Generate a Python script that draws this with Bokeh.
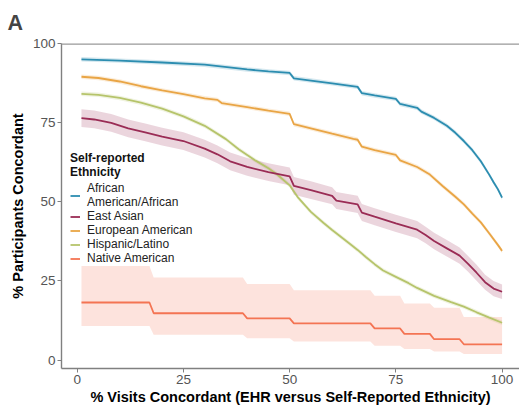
import numpy as np
from bokeh.plotting import figure
from bokeh.models import Legend, LegendItem, FixedTicker, Range1d, Span
from bokeh.embed import file_html
from bokeh.resources import INLINE

# % participants concordant vs. % visits concordant, by self-reported ethnicity
afr_x = [1, 10, 20, 30, 40, 45, 50, 51, 55, 60, 66, 67, 70, 75, 76, 80, 81, 84, 87, 89, 91, 93, 95, 97, 98, 99, 100]
afr_y = [95.0, 94.6, 94.0, 93.3, 91.8, 91.2, 90.7, 89.0, 88.3, 87.4, 86.3, 84.3, 83.6, 82.5, 80.9, 79.7, 78.5, 76.5, 74.0, 71.8, 69.2, 66.3, 62.8, 58.5, 56.2, 54.0, 51.3]
afr_ci = 0.7

eur_x = [1, 5, 10, 15, 20, 25, 30, 33, 34, 40, 45, 50, 51, 55, 60, 65, 66, 67, 70, 75, 76, 80, 83, 86, 89, 91, 93, 95, 97, 99, 100]
eur_y = [89.5, 89.1, 88.0, 86.5, 85.2, 84.0, 82.7, 82.2, 81.2, 79.9, 78.8, 77.8, 74.5, 73.2, 71.5, 69.9, 69.6, 67.4, 66.3, 64.8, 63.1, 61.0, 58.6, 55.0, 51.6, 49.2, 46.3, 43.5, 40.0, 36.4, 34.5]
eur_ci = 0.7

hisp_x = [1, 5, 10, 15, 20, 25, 30, 35, 38, 40, 42, 45, 47, 50, 52, 55, 58, 60, 64, 66, 68, 70, 72, 75, 78, 80, 84, 88, 91, 94, 97, 100]
hisp_y = [84.1, 83.8, 82.8, 81.3, 79.4, 77.0, 74.0, 69.8, 66.6, 64.8, 63.0, 60.6, 58.7, 55.2, 51.3, 46.8, 43.3, 41.1, 36.9, 34.8, 32.5, 30.3, 28.3, 26.3, 24.3, 22.8, 20.3, 18.3, 16.9, 15.1, 13.4, 11.8]
hisp_ci = 0.7

eas_x = [1, 4, 8, 12, 16, 20, 25, 30, 33, 36, 40, 45, 50, 51, 55, 60, 61, 66, 67, 70, 75, 80, 82, 84, 87, 90, 92, 94, 96, 98, 100]
eas_y = [76.4, 76.0, 74.9, 73.2, 71.9, 70.6, 69.2, 66.8, 65.0, 62.8, 61.0, 59.4, 58.0, 55.0, 53.7, 51.9, 50.4, 49.2, 46.6, 45.3, 43.2, 41.2, 39.5, 37.6, 35.3, 33.0, 30.4, 27.6, 24.6, 22.6, 21.6]
eas_ci = [2.8, 2.8, 2.8, 2.8, 2.8, 2.8, 2.8, 2.8, 2.8, 2.8, 2.8, 2.8, 2.8, 2.8, 2.8, 2.7, 2.7, 2.7, 2.7, 2.7, 2.7, 2.7, 2.6, 2.6, 2.6, 2.6, 2.5, 2.5, 2.4, 2.4, 2.3]

nat_x = [1, 17, 18, 39, 40, 50, 51, 69, 70, 76, 77, 83, 84, 90, 91, 100]
nat_y = [18.2, 18.2, 14.8, 14.8, 13.2, 13.2, 11.6, 11.6, 10.0, 10.0, 8.3, 8.3, 6.6, 6.6, 5.0, 5.0]
nat_lo = [10.8, 10.8, 8.0, 8.0, 6.9, 6.9, 5.9, 5.9, 4.5, 4.5, 3.5, 3.5, 2.7, 2.7, 1.9, 1.9]
nat_hi = [29.7, 29.7, 26.1, 26.1, 24.0, 24.0, 22.1, 22.1, 20.3, 20.3, 17.9, 17.9, 16.5, 16.5, 13.6, 13.6]

ticks = [0, 25, 50, 75, 100]

colors = {
    "afr": "#2c8db0",
    "eas": "#9a2c55",
    "eur": "#e9a545",
    "hisp": "#b6c46b",
    "nat": "#f47453",
}

FONT = "Liberation Sans"

p = figure(width=519, height=407, output_backend="svg", toolbar_location=None,
           x_range=Range1d(-3.7, 104.1), y_range=Range1d(-2.65, 100.0),
           min_border_left=61, min_border_right=0, min_border_top=43,
           min_border_bottom=39)

# confidence bands
p.varea(x=afr_x, y1=np.array(afr_y) - afr_ci, y2=np.array(afr_y) + afr_ci,
        fill_color=colors["afr"], fill_alpha=0.2)
p.varea(x=eur_x, y1=np.array(eur_y) - eur_ci, y2=np.array(eur_y) + eur_ci,
        fill_color=colors["eur"], fill_alpha=0.2)
p.varea(x=hisp_x, y1=np.array(hisp_y) - hisp_ci, y2=np.array(hisp_y) + hisp_ci,
        fill_color=colors["hisp"], fill_alpha=0.2)
p.varea(x=eas_x, y1=np.array(eas_y) - np.array(eas_ci), y2=np.array(eas_y) + np.array(eas_ci),
        fill_color=colors["eas"], fill_alpha=0.2)
p.varea(x=nat_x, y1=nat_lo, y2=nat_hi, fill_color=colors["nat"], fill_alpha=0.2)

# curves
lw = 1.8
r_afr = p.line(afr_x, afr_y, line_color=colors["afr"], line_width=lw)
r_eur = p.line(eur_x, eur_y, line_color=colors["eur"], line_width=lw)
r_hisp = p.line(hisp_x, hisp_y, line_color=colors["hisp"], line_width=lw)
r_eas = p.line(eas_x, eas_y, line_color=colors["eas"], line_width=lw)
r_nat = p.line(nat_x, nat_y, line_color=colors["nat"], line_width=lw)

# axes
p.xgrid.visible = False
p.ygrid.visible = False
p.outline_line_color = None
for ax in (p.xaxis[0], p.yaxis[0]):
    ax.ticker = FixedTicker(ticks=ticks)
    ax.axis_line_color = "#808080"
    ax.axis_line_width = 1.4
    ax.major_tick_line_color = "#808080"
    ax.major_tick_out = 4
    ax.major_tick_in = 0
    ax.minor_tick_line_color = None
    ax.major_label_text_font = FONT
    ax.major_label_text_font_size = "13.5px"
    ax.major_label_text_color = "#555555"
    ax.axis_label_text_font = FONT
    ax.axis_label_text_font_size = "14.5px"
    ax.axis_label_text_font_style = "bold"
    ax.axis_label_text_color = "#000000"

p.xaxis.axis_label = "% Visits Concordant (EHR versus Self-Reported Ethnicity)"
p.yaxis.axis_label = "% Participants Concordant"
p.xaxis.major_label_standoff = 2
p.yaxis.major_label_standoff = 2
p.xaxis.axis_label_standoff = 2
p.yaxis.axis_label_standoff = 4

# top border of the panel
p.add_layout(Span(location=100, dimension="width", line_color="#999999", line_width=2.5))

# panel letter
p.title.text = "A"
p.title.text_font = FONT
p.title.text_font_size = "21.5px"
p.title.text_font_style = "bold"
p.title.align = "left"
p.title.offset = -54
p.title.standoff = 17

legend = Legend(
    items=[
        LegendItem(label="African\nAmerican/African", renderers=[r_afr]),
        LegendItem(label="East Asian", renderers=[r_eas]),
        LegendItem(label="European American", renderers=[r_eur]),
        LegendItem(label="Hispanic/Latino", renderers=[r_hisp]),
        LegendItem(label="Native American", renderers=[r_nat]),
    ],
    title="Self-reported\nEthnicity",
    location=(9, 103),
    background_fill_alpha=0,
    border_line_color=None,
    padding=0, margin=0, spacing=0,
    glyph_width=10, glyph_height=11, label_height=11,
    label_standoff=7,
    label_text_font=FONT, label_text_font_size="12px", label_text_color="#222222",
    label_text_line_height=1.0,
    title_text_font=FONT, title_text_font_size="12px", title_text_font_style="bold",
    title_text_color="#111111", title_standoff=2, title_text_line_height=1.0,
)
p.add_layout(legend)

open("out.html", "w").write(file_html(p, INLINE))
